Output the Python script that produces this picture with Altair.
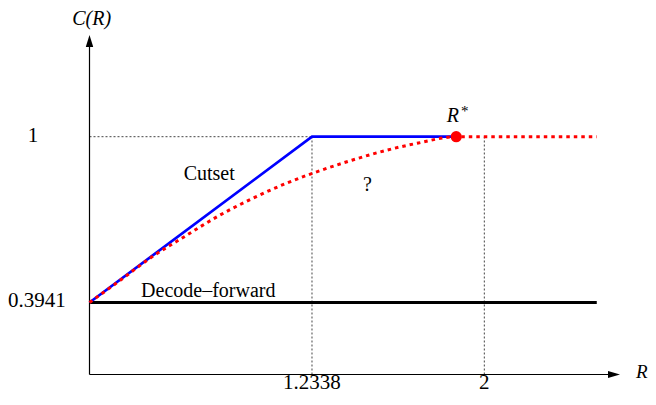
import altair as alt
import pandas as pd

# ---------------- data ----------------
x_tick_values = [1.2338, 2.0]
x_tick_labels = ["1.2338", "2"]
y_tick_values = [0.3941, 1.0]
y_tick_labels = ["0.3941", "1"]

origin_r = 0.2445          # where the two axes meet
origin_c = 0.1309
axis_r_end = 2.5766        # x-axis arrow head (centre)
axis_c_end = 1.3498        # y-axis arrow head (centre)

df_rate = 0.3941           # decode-forward rate
df_r = [0.2445, 2.5]

cutset_r = [0.2445, 1.2338, 1.875]
cutset_c = [0.3941, 1.0, 1.0]

unknown_r = [0.2445, 0.3725, 0.521, 0.669, 0.817, 0.966, 1.114, 1.232,
             1.411, 1.558, 1.707, 1.875, 2.5]
unknown_c = [0.3941, 0.470, 0.560, 0.636, 0.710, 0.773, 0.828, 0.865,
             0.914, 0.949, 0.977, 1.0, 1.0]

r_star = 1.875

# ---------------- scales ----------------
W, H = 640, 385
xs = alt.Scale(domain=[-0.1179, -0.1179 + W / 224.9], nice=False, zero=False)
ys = alt.Scale(domain=[1.4704 - H / 273.6, 1.4704], nice=False, zero=False)


def X(f="r"):
    return alt.X(f"{f}:Q", scale=xs, axis=None)


def Y(f="c"):
    return alt.Y(f"{f}:Q", scale=ys, axis=None)


# axes (solid black)
axes_df = pd.DataFrame({
    "r": [origin_r, origin_r],
    "c": [origin_c, origin_c],
    "r2": [axis_r_end, origin_r],
    "c2": [origin_c, axis_c_end],
})
axes = alt.Chart(axes_df).mark_rule(color="black", strokeWidth=1.2).encode(
    x=X(), y=Y(), x2="r2:Q", y2="c2:Q")

# arrow heads
up_df = pd.DataFrame({"r": [origin_r], "c": [axis_c_end]})
right_df = pd.DataFrame({"r": [axis_r_end], "c": [origin_c]})
up_arrow = alt.Chart(up_df).mark_point(
    shape="M0,-1L0.62,1L-0.62,1Z", size=144, filled=True, color="black",
    opacity=1, strokeWidth=0).encode(x=X(), y=Y())
right_arrow = alt.Chart(right_df).mark_point(
    shape="M1,0L-1,0.58L-1,-0.58Z", size=144, filled=True, color="black",
    opacity=1, strokeWidth=0).encode(x=X(), y=Y())

# gray dashed guides
guide_df = pd.DataFrame({
    "r": [origin_r, x_tick_values[0], x_tick_values[1]],
    "c": [1.0, origin_c, origin_c],
    "r2": [x_tick_values[0], x_tick_values[0], x_tick_values[1]],
    "c2": [1.0, 1.0, 1.0],
})
guides = alt.Chart(guide_df).mark_rule(
    color="#444444", strokeWidth=1, strokeDash=[2, 2]).encode(
    x=X(), y=Y(), x2="r2:Q", y2="c2:Q")

# decode-forward line
df_df = pd.DataFrame({"r": df_r, "c": [df_rate, df_rate]})
df_line = alt.Chart(df_df).mark_line(color="black", strokeWidth=3).encode(
    x=X(), y=Y())

# cutset line
cut_df = pd.DataFrame({"r": cutset_r, "c": cutset_c})
cut_line = alt.Chart(cut_df).mark_line(color="#0000ff", strokeWidth=2.7).encode(
    x=X(), y=Y())

# unknown capacity (red dotted)
unk_df = pd.DataFrame({"r": unknown_r, "c": unknown_c})
unk_line = alt.Chart(unk_df).mark_line(
    color="#ff0000", strokeWidth=3, strokeDash=[3.5, 4], interpolate="monotone",
    strokeCap="butt").encode(x=X(), y=Y())

# R* dot
dot_df = pd.DataFrame({"r": [r_star], "c": [1.0]})
dot = alt.Chart(dot_df).mark_circle(size=125, color="#ff0000", opacity=1).encode(
    x=X(), y=Y())

# ---------------- text ----------------
serif = "Liberation Serif"

tick_df = pd.DataFrame({
    "r": x_tick_values + [-0.0067, 0.0110],
    "c": [0.0779, 0.0779, 0.9793, 0.3758],
    "t": x_tick_labels + [y_tick_labels[1], y_tick_labels[0]],
})
ticks = alt.Chart(tick_df).mark_text(
    font=serif, fontSize=21, align="center", baseline="alphabetic",
    color="black").encode(x=X(), y=Y(), text="t:N")

name_df = pd.DataFrame({
    "r": [0.7767, 0.7727, 1.4806],
    "c": [0.8418, 0.4152, 0.8026],
    "t": ["Cutset", "Decode\u2013forward", "?"],
})
names = alt.Chart(name_df).mark_text(
    font=serif, fontSize=20, align="center", baseline="alphabetic",
    color="black").encode(x=X(), y=Y(), text="t:N")

ital_df = pd.DataFrame({
    "r": [0.2543, 2.7000, 1.8599],
    "c": [1.4082, 0.1170, 1.0548],
    "t": ["C(R)", "R", "R"],
    "s": [20, 19, 20],
})
itals = alt.Chart(ital_df).mark_text(
    font=serif, fontStyle="italic", align="center", baseline="alphabetic",
    color="black").encode(x=X(), y=Y(), text="t:N",
                          size=alt.Size("s:Q", scale=None, legend=None))

star_df = pd.DataFrame({"r": [1.9128], "c": [1.0760], "t": ["*"]})
star = alt.Chart(star_df).mark_text(
    font=serif, fontSize=15, align="center", baseline="alphabetic",
    color="black").encode(x=X(), y=Y(), text="t:N")

chart = alt.layer(
    guides, axes, up_arrow, right_arrow, df_line, cut_line, unk_line, dot,
    ticks, names, itals, star,
).properties(
    width=W, height=H,
    autosize=alt.AutoSizeParams(type="none"),
    padding=0,
).configure_view(stroke=None)

chart.save("out.html", embed_options={"renderer": "svg", "actions": False})
